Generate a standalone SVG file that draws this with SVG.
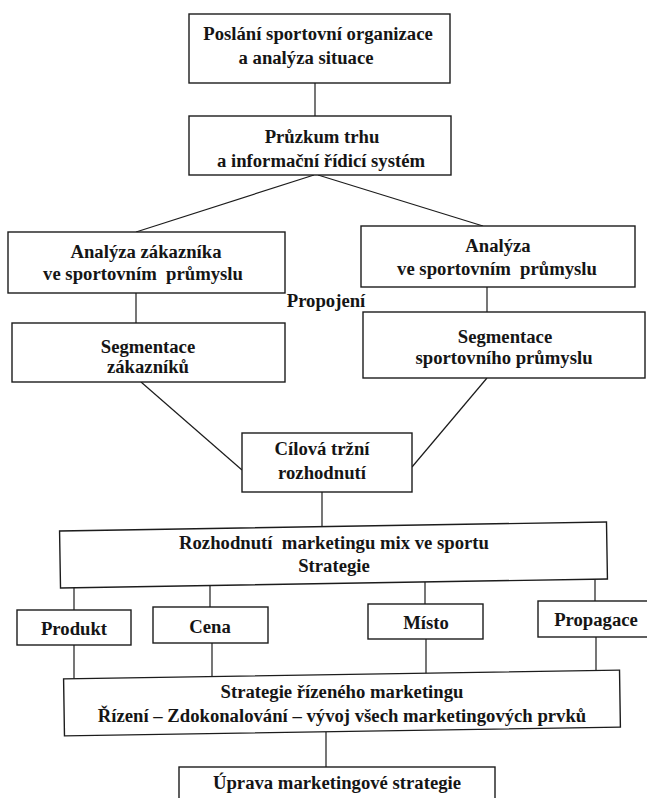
<svg xmlns="http://www.w3.org/2000/svg" width="647" height="798" viewBox="0 0 647 798">
<style>
.b{fill:#fff;stroke:#1c1c1c;stroke-width:1.4}
.t{font-family:'Liberation Serif','Times New Roman','DejaVu Serif',serif;font-weight:700;font-size:18.7px;fill:#151515;text-anchor:middle}
.c line{stroke:#1c1c1c;stroke-width:1.2}
</style>
<rect width="647" height="798" fill="#fff"/>
<g class="c" id="connectors">
<line x1="315" y1="83" x2="315" y2="116"/>
<line x1="314" y1="175" x2="136" y2="232"/>
<line x1="318" y1="175" x2="483" y2="226"/>
<line x1="136" y1="293" x2="136" y2="323"/>
<line x1="487" y1="287" x2="487" y2="312"/>
<line x1="141" y1="382" x2="242" y2="470"/>
<line x1="487" y1="378" x2="412" y2="467"/>
<line x1="322" y1="492" x2="322" y2="527"/>
<line x1="74" y1="587" x2="74" y2="610"/>
<line x1="210" y1="585" x2="210" y2="607"/>
<line x1="425" y1="582" x2="425" y2="604"/>
<line x1="595" y1="579" x2="595" y2="601"/>
<line x1="74" y1="645" x2="74" y2="679"/>
<line x1="212" y1="643" x2="212" y2="677"/>
<line x1="426" y1="639" x2="426" y2="674"/>
<line x1="596" y1="637" x2="596" y2="671"/>
<line x1="326" y1="732" x2="326" y2="767"/>
</g>
<g id="n-poslani">
<rect class="b" x="189" y="14" width="261" height="69"/>
<text class="t" x="318" y="40">Poslání sportovní organizace</text>
<text class="t" x="306" y="64">a analýza situace</text>
</g>
<g id="n-pruzkum">
<rect class="b" x="189" y="116" width="262" height="59"/>
<text class="t" x="322" y="143">Průzkum trhu</text>
<text class="t" x="321" y="167">a informační řídicí systém</text>
</g>
<g id="n-analyza-zakaznika">
<rect class="b" x="8" y="232" width="277" height="61"/>
<text class="t" x="146" y="258">Analýza zákazníka</text>
<text class="t" x="143" y="280" xml:space="preserve">ve sportovním  průmyslu</text>
</g>
<g id="n-analyza-prumysl">
<rect class="b" x="361" y="226" width="274" height="61"/>
<text class="t" x="498" y="252">Analýza</text>
<text class="t" x="497" y="275" xml:space="preserve">ve sportovním  průmyslu</text>
</g>
<g id="n-propojeni">
<text class="t" x="326" y="307">Propojení</text>
</g>
<g id="n-segmentace-zakazniku">
<rect class="b" x="12" y="323" width="273" height="59"/>
<text class="t" x="148" y="353">Segmentace</text>
<text class="t" x="148" y="373">zákazníků</text>
</g>
<g id="n-segmentace-prumyslu">
<rect class="b" x="363" y="312" width="282" height="66"/>
<text class="t" x="505" y="343">Segmentace</text>
<text class="t" x="504" y="364">sportovního průmyslu</text>
</g>
<g id="n-cilova">
<rect class="b" x="242" y="433" width="170" height="59"/>
<text class="t" x="322" y="455">Cílová tržní</text>
<text class="t" x="322" y="479">rozhodnutí</text>
</g>
<g id="n-rozhodnuti">
<rect class="b" x="60" y="526.5" width="547" height="57" transform="rotate(-0.95 333 555)"/>
<text class="t" x="334" y="549" xml:space="preserve">Rozhodnutí  marketingu mix ve sportu</text>
<text class="t" x="334" y="572">Strategie</text>
</g>
<g id="n-produkt">
<rect class="b" x="17" y="610" width="114" height="35"/>
<text class="t" x="74" y="635">Produkt</text>
</g>
<g id="n-cena">
<rect class="b" x="153" y="607" width="115" height="36"/>
<text class="t" x="210" y="633">Cena</text>
</g>
<g id="n-misto">
<rect class="b" x="368" y="604" width="115" height="35"/>
<text class="t" x="426" y="629">Místo</text>
</g>
<g id="n-propagace">
<rect class="b" x="538" y="601" width="114" height="36"/>
<text class="t" x="596" y="626">Propagace</text>
</g>
<g id="n-strategie">
<rect class="b" x="64" y="674.5" width="556" height="57" transform="rotate(-0.9 342 703)"/>
<text class="t" x="342" y="698">Strategie řízeného marketingu</text>
<text class="t" x="342" y="722">Řízení – Zdokonalování – vývoj všech marketingových prvků</text>
</g>
<g id="n-uprava">
<rect class="b" x="179" y="767" width="316" height="40"/>
<text class="t" x="337" y="789">Úprava marketingové strategie</text>
</g>
</svg>
